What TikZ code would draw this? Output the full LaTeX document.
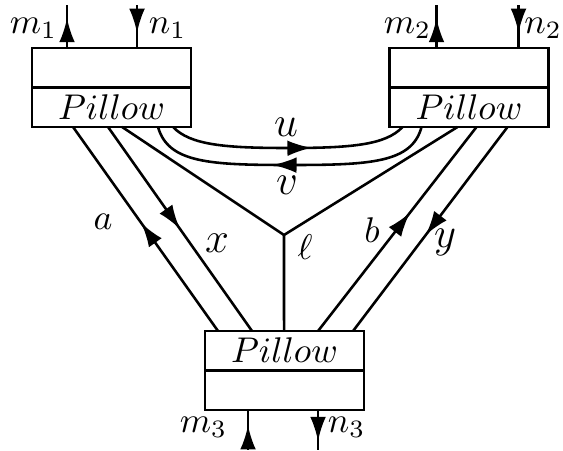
\documentclass[tikz,border=0pt]{standalone}
\usepackage{amsmath}
\usepackage{tikz}
\usetikzlibrary{
  calc,                  % Coordinate math on box edges
  decorations.markings   % Arrows in the middle of lines
}
\usetikzlibrary{arrows.meta}

\tikzset{
  pillow/.style={draw, rectangle, minimum width=44.5pt, minimum height=22.1pt,
    inner sep=0pt, outer sep=0pt},
  midarrow/.style={postaction={decorate}, decoration={markings,
    mark=at position #1 with {\arrow{Latex[length=6.8pt,width=4.4pt]}}}},
  midarrow/.default=0.5,
  lbl/.style={inner sep=1pt}
}

\begin{document}
\begin{tikzpicture}[x=0.28pt, y=-0.28pt, line width=0.72pt]
        \useasboundingbox (0,0) rectangle (563,450);

        % Three boxes
        \node[pillow] (P1) at (111.5, 87.5) {};
        \node[pillow] (P2) at (469, 87.5) {};
        \node[pillow] (P3) at (284.5, 370.5) {};

        % Middle separators
        \draw (P1.west) -- (P1.east);
        \draw (P2.west) -- (P2.east);
        \draw (P3.west) -- (P3.east);

        % Box names
        \node (T1) at ($(P1)+(0,20)$) {$Pillow$};
        \node (T2) at ($(P2)+(0,20)$) {$Pillow$};
        \node (T3) at ($(P3)+(0,-20)$) {$Pillow$};

        % Outer legs
        \coordinate (m1b) at ($(P1.north west)+(35,0)$);
        \coordinate (m1t) at ($(m1b)+(0,-43)$);
        \coordinate (n1b) at ($(P1.north west)+(105,0)$);
        \coordinate (n1t) at ($(n1b)+(0,-43)$);
        \coordinate (m2b) at ($(P2.north west)+(47,0)$);
        \coordinate (m2t) at ($(m2b)+(0,-43)$);
        \coordinate (n2b) at ($(P2.north west)+(129,0)$);
        \coordinate (n2t) at ($(n2b)+(0,-43)$);
        \coordinate (m3b) at ($(P3.south west)+(43,0)$);
        \coordinate (m3e) at ($(m3b)+(0,40)$);
        \coordinate (n3b) at ($(P3.south west)+(113,0)$);
        \coordinate (n3e) at ($(n3b)+(0,40)$);

        \draw[midarrow=0.7] (m1b) -- (m1t);
        \draw[midarrow=0.65] (n1t) -- (n1b);
        \draw[midarrow=0.7] (m2b) -- (m2t);
        \draw[midarrow=0.65] (n2t) -- (n2b);
        \draw[midarrow=0.62] (m3e) -- (m3b);
        \draw[midarrow=0.78] (n3b) -- (n3e);

        \node[lbl, anchor=base east] (lm1) at (62, 33) {$m_1$};
        \node[lbl, anchor=base west] (ln1) at (144, 33) {$n_1$};
        \node[lbl, anchor=base east] (lm2) at (436, 33) {$m_2$};
        \node[lbl, anchor=base west] (ln2) at (519.5, 33) {$n_2$};
        \node[lbl, anchor=base east] (lm3) at (232, 432) {$m_3$};
        \node[lbl, anchor=base west] (ln3) at (323, 432) {$n_3$};

        % Ports on the inner edges
        \coordinate (a1) at ($(P1.south west)+(41,0)$);
        \coordinate (x1) at ($(P1.south west)+(76,0)$);
        \coordinate (l1) at ($(P1.south west)+(90,0)$);
        \coordinate (v1) at ($(P1.south west)+(126,0)$);
        \coordinate (u1) at ($(P1.south west)+(141,0)$);
        \coordinate (u2) at ($(P2.south west)+(13,0)$);
        \coordinate (v2) at ($(P2.south west)+(32,0)$);
        \coordinate (l2) at ($(P2.south west)+(68,0)$);
        \coordinate (b2) at ($(P2.south west)+(87,0)$);
        \coordinate (y2) at ($(P2.south west)+(118,0)$);
        \coordinate (a3) at ($(P3.north west)+(13,0)$);
        \coordinate (x3) at ($(P3.north west)+(47,0)$);
        \coordinate (l3) at ($(P3.north west)+(79,0)$);
        \coordinate (b3) at ($(P3.north west)+(113,0)$);
        \coordinate (y3) at ($(P3.north west)+(148,0)$);
        \coordinate (J) at (284, 235);

        % Straight strands
        \draw[midarrow=0.53] (a3) -- (a1);
        \draw[midarrow=0.5] (x1) -- (x3);
        \draw[midarrow=0.58] (b3) -- (b2);
        \draw[midarrow=0.53] (y2) -- (y3);

        % Trivalent vertex
        \draw (l1) -- (J) -- (l2);
        \draw (J) -- (l3);

        % Curved strands u and v
        \draw[midarrow=0.6] (u1) .. controls (190, 145) and (225, 148) .. (288, 148)
              .. controls (351, 148) and (386, 145) .. (u2);
        \draw[midarrow=0.56] (v2) .. controls (412, 163) and (370, 165) .. (290, 165)
              .. controls (210, 165) and (168, 163) .. (v1);

        % Strand labels
        \node (la) at (103, 222) {$a$};
        \node (lx) at (217, 243) {\large $x$};
        \node (lb) at (372, 230) {$b$};
        \node (ly) at (445, 242) {\large $y$};
        \node (ll) at (305, 247) {$\ell$};
        \node (lu) at (286, 127) {\large $u$};
        \node (lv) at (287, 185) {\large $v$};
    \end{tikzpicture}
\end{document}
